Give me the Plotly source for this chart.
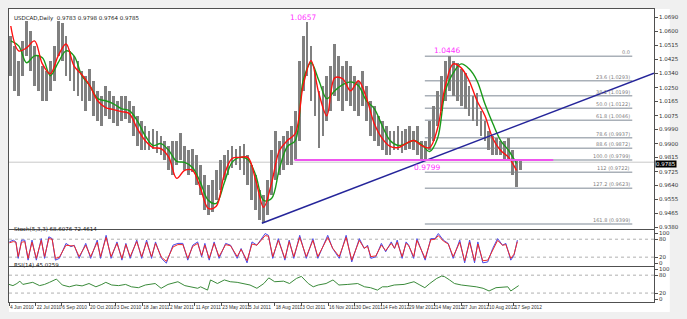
import numpy as np
import plotly.graph_objects as go
from plotly.subplots import make_subplots

# ---------------- data (x unit = week index) ----------------
price_high = [1.0572, 1.0510, 1.0417, 1.0541, 1.0665, 1.0603, 1.0510, 1.0448, 1.0386, 1.0355,
              1.0417, 1.0510, 1.0665, 1.0653, 1.0572, 1.0479, 1.0448, 1.0417, 1.0355, 1.0324,
              1.0367, 1.0293, 1.0230, 1.0199, 1.0262, 1.0230, 1.0199, 1.0168, 1.0199, 1.0199,
              1.0168, 1.0137, 1.0075, 1.0044, 1.0013, 0.9982, 0.9995, 0.9982, 0.9951, 0.9920,
              0.9889, 0.9920, 0.9920, 0.9964, 0.9889, 0.9858, 0.9870, 0.9827, 0.9765, 0.9703,
              0.9641, 0.9672, 0.9734, 0.9796, 0.9827, 0.9858, 0.9889, 0.9870, 0.9889, 0.9901,
              0.9827, 0.9765, 0.9703, 0.9610, 0.9579, 0.9672, 0.9858, 0.9982, 0.9920, 0.9951,
              0.9982, 1.0013, 1.0106, 1.0417, 1.0572, 1.0657, 1.0510, 1.0355, 1.0230, 1.0262,
              1.0324, 1.0386, 1.0522, 1.0448, 1.0386, 1.0417, 1.0386, 1.0324, 1.0293, 1.0355,
              1.0262, 1.0168, 1.0137, 1.0075, 1.0044, 1.0013, 0.9982, 0.9982, 1.0013, 0.9982,
              0.9995, 1.0013, 0.9982, 1.0013, 0.9920, 0.9920, 1.0044, 1.0137, 1.0230, 1.0324,
              1.0417, 1.0446, 1.0417, 1.0405, 1.0367, 1.0342, 1.0262, 1.0199, 1.0218, 1.0106,
              1.0044, 0.9982, 0.9951, 0.9933, 0.9920, 0.9920, 0.9933, 0.9858, 0.9796, 0.9808]
price_low = [1.0324, 1.0230, 1.0199, 1.0324, 1.0448, 1.0355, 1.0262, 1.0230, 1.0168, 1.0168,
             1.0230, 1.0293, 1.0448, 1.0417, 1.0324, 1.0293, 1.0230, 1.0199, 1.0168, 1.0106,
             1.0168, 1.0075, 1.0044, 1.0013, 1.0075, 1.0057, 1.0032, 1.0013, 1.0044, 1.0057,
             1.0032, 0.9951, 0.9889, 0.9858, 0.9858, 0.9858, 0.9870, 0.9845, 0.9827, 0.9796,
             0.9734, 0.9703, 0.9765, 0.9796, 0.9734, 0.9703, 0.9721, 0.9641, 0.9579, 0.9485,
             0.9454, 0.9473, 0.9547, 0.9610, 0.9672, 0.9703, 0.9746, 0.9765, 0.9734, 0.9703,
             0.9641, 0.9547, 0.9485, 0.9423, 0.9405, 0.9454, 0.9579, 0.9672, 0.9703, 0.9734,
             0.9765, 0.9765, 0.9796, 0.9920, 1.0230, 1.0324, 1.0168, 1.0075, 0.9876, 0.9951,
             1.0044, 1.0106, 1.0199, 1.0168, 1.0106, 1.0168, 1.0137, 1.0106, 1.0075, 1.0137,
             1.0044, 0.9951, 0.9920, 0.9889, 0.9858, 0.9827, 0.9827, 0.9858, 0.9858, 0.9845,
             0.9858, 0.9870, 0.9858, 0.9827, 0.9796, 0.9799, 0.9858, 0.9920, 1.0013, 1.0106,
             1.0168, 1.0230, 1.0199, 1.0168, 1.0137, 1.0119, 1.0075, 1.0044, 1.0013, 0.9951,
             0.9920, 0.9858, 0.9827, 0.9827, 0.9827, 0.9796, 0.9808, 0.9703, 0.9628, 0.9734]

# moving averages sampled every 2 weeks
ma_red = [1.0634, 1.0479, 1.0498, 1.0541, 1.0398, 1.0336, 1.0448, 1.0522, 1.0386, 1.0330,
          1.0262, 1.0168, 1.0125, 1.0113, 1.0100, 1.0088, 0.9995, 0.9920, 0.9876, 0.9870,
          0.9815, 0.9684, 0.9734, 0.9734, 0.9622, 0.9497, 0.9510, 0.9703, 0.9808, 0.9815,
          0.9815, 0.9672, 0.9504, 0.9653, 0.9858, 0.9920, 0.9964, 1.0262, 1.0417, 1.0212,
          1.0075, 1.0311, 1.0305, 1.0230, 1.0293, 1.0187, 1.0026, 0.9933, 0.9883, 0.9876,
          0.9901, 0.9920, 0.9889, 0.9876, 0.9995, 1.0262, 1.0398, 1.0373, 1.0293, 1.0168,
          1.0075, 0.9933, 0.9858, 0.9815, 0.9734]
ma_green = [1.0541, 1.0510, 1.0405, 1.0448, 1.0436, 1.0324, 1.0405, 1.0479, 1.0448, 1.0324,
            1.0262, 1.0181, 1.0168, 1.0149, 1.0119, 1.0106, 1.0044, 0.9951, 0.9889, 0.9901,
            0.9858, 0.9790, 0.9784, 0.9752, 0.9659, 0.9547, 0.9528, 0.9653, 0.9784, 0.9815,
            0.9802, 0.9703, 0.9547, 0.9559, 0.9746, 0.9883, 0.9920, 1.0293, 1.0405, 1.0293,
            1.0181, 1.0230, 1.0268, 1.0286, 1.0262, 1.0168, 1.0119, 1.0013, 0.9920, 0.9889,
            0.9901, 0.9920, 0.9895, 0.9852, 0.9933, 1.0230, 1.0342, 1.0398, 1.0367, 1.0293,
            1.0149, 1.0026, 0.9920, 0.9858, 0.9777]

stoch_x = [0.08, 1.08, 1.75, 2.33, 3.17, 4, 4.83, 5.83, 6.92, 8.17, 9, 10.08, 10.92, 11.75, 12.75,
           14.42, 15.67, 16.5, 17.75, 19.42, 20.67, 22.33, 23.17, 24.58, 25.83, 27.33, 28.58,
           29.58, 30.67, 32.33, 33.58, 34.83, 36.08, 37.08, 38.58, 39.83, 41.5, 42.75, 44, 45.25,
           46.5, 47.75, 48.75, 49.58, 50.67, 51.92, 53.17, 54.83, 56.08, 57.75, 58.75, 60.25,
           61.5, 62.75, 64.83, 65.67, 66.75, 68.17, 69.83, 70.92, 72.08, 73.58, 75.25, 76.92,
           78.17, 80.67, 81.92, 83.58, 85.33, 86.75, 88.67, 89.92, 90.75, 91.58, 92.83, 94.25,
           95.33, 96.75, 97.58, 98.25, 99.5, 100.5, 101.17, 102.42, 103.25, 105.33, 106.75,
           107.83, 108.67, 109.92, 111.17, 112.42, 114.08, 115.33, 116.58, 117.83, 118.67,
           119.92, 121.17, 122.42, 123.67, 124.92, 125.75, 127, 127.83, 128.67]
stoch_main = [71, 77, 71, 16, 77, 77, 10, 77, 10, 82, 16, 88, 82, 10, 16, 66, 55, 60, 16, 66,
              16, 77, 16, 93, 16, 71, 10, 66, 16, 77, 16, 77, 16, 71, 16, 0, 60, 66, 66, 10,
              60, 71, 21, 66, 10, 71, 16, 66, 60, 16, 49, 1, 71, 60, 99, 93, 16, 82, 10, 77,
              16, 93, 16, 82, 16, 93, 49, 16, 93, 4, 82, 49, 60, 16, 21, 66, 38, 71, 49, 77,
              16, 71, 60, 16, 82, 10, 82, 82, 99, 77, 66, 16, 77, 1, 77, 1, 71, 1, 4, 49,
              82, 60, 66, 10, 27, 77]
stoch_signal = [68, 72, 70, 22, 70, 72, 16, 70, 16, 76, 22, 82, 80, 16, 20, 60, 58, 58, 22, 60,
                22, 70, 22, 86, 22, 66, 16, 62, 22, 72, 22, 70, 22, 66, 20, 6, 54, 62, 62, 16,
                56, 66, 26, 60, 16, 66, 22, 62, 58, 22, 46, 8, 64, 60, 92, 90, 22, 76, 16, 72,
                22, 86, 22, 76, 22, 86, 50, 22, 86, 10, 76, 50, 56, 22, 24, 60, 42, 66, 50, 70,
                22, 66, 58, 22, 76, 16, 78, 80, 92, 74, 64, 22, 70, 8, 70, 8, 64, 8, 10, 44,
                76, 60, 62, 16, 30, 72]

rsi_x = [0, 1, 2, 2.75, 3.5, 4.5, 6, 7.75, 9, 10.25, 12, 13.5, 15.25, 17, 18.5, 20.25, 22, 23.5,
         24.5, 26, 27.75, 29.5, 31, 32.75, 34.5, 37, 38.5, 40.25, 42.75, 44.5, 46, 47.75, 48.5,
         50.25, 51, 52.75, 54.5, 56, 57.75, 59.5, 61, 62.75, 64.5, 65.75, 67.25, 69.5, 71,
         72.75, 74, 75.75, 77, 78.25, 80.25, 82, 83.5, 85.75, 88.25, 90, 91.5, 93.25, 94.5,
         95.75, 97.5, 100, 102.5, 104, 105.25, 106.5, 108.25, 109.5, 110.25, 111.5, 112.75,
         114.5, 116.5, 118.25, 120, 121.5, 123.25, 125, 126.25, 127, 127.75, 129]
rsi_vals = [49, 45, 52, 60, 49, 52, 56, 45, 49, 56, 67, 47, 41, 47, 44, 52, 41, 49, 56, 47,
            45, 49, 41, 38, 47, 52, 36, 49, 58, 45, 41, 36, 41, 30, 64, 52, 64, 58, 56, 52,
            47, 36, 52, 71, 58, 60, 52, 69, 76, 52, 41, 47, 52, 64, 47, 49, 52, 41, 38, 30,
            41, 41, 47, 49, 58, 47, 38, 52, 69, 77, 75, 64, 52, 47, 45, 41, 36, 27, 38, 41,
            41, 27, 34, 45]

fib_levels = [1.0446, 1.0293, 1.0199, 1.0122, 1.0046, 0.9937, 0.9872, 0.9799, 0.9722, 0.9623, 0.9399]
fib_texts = ["0.0", "23.6 (1.0293)", "38.2 (1.0199)", "50.0 (1.0122)", "61.8 (1.0046)",
             "78.6 (0.9937)", "88.6 (0.9872)", "100.0 (0.9799)", "112 (0.9722)",
             "127.2 (0.9623)", "161.8 (0.9399)"]
fib_start, fib_end = 105.25, 157.75

support_level = 0.9799
support_start, support_end = 72.25, 137.75
trend_x = [64, 163.25]
trend_y = [0.9405, 1.0340]
last_price = 0.9785

peak_labels = [(74.5, 1.0690, "1.0657"), (110.75, 1.0479, "1.0446"), (105.75, 0.9752, "0.9799")]

price_ticks = [1.0690, 1.0600, 1.0515, 1.0425, 1.0340, 1.0250, 1.0165, 1.0075, 0.9990,
               0.9900, 0.9815, 0.9725, 0.9640, 0.9555, 0.9465, 0.9380]
date_pos = [0, 6.75, 13.25, 20.25, 27, 33.75, 40.5, 47, 53.75, 60.5, 67.25, 74, 80.75, 87.5,
            94.25, 101, 107.75, 114.5, 121.25, 127.75]
date_labels = ['4 Jun 2010', '22 Jul 2010', '6 Sep 2010', '20 Oct 2010', '3 Dec 2010',
               '18 Jan 2011', '2 Mar 2011', '11 Apr 2011', '23 May 2011', '5 Jul 2011',
               '18 Aug 2011', '3 Oct 2011', '16 Nov 2011', '30 Dec 2011', '14 Feb 2012',
               '29 Mar 2012', '14 May 2012', '27 Jun 2012', '10 Aug 2012', '17 Sep 2012']

# ---------------- figure ----------------
FONT = "DejaVu Sans"
NARROW = "Liberation Sans Narrow, Liberation Sans, Arial"
fig = make_subplots(rows=3, cols=1, shared_xaxes=True, vertical_spacing=0)

hi = np.array(price_high)
lo = np.array(price_low)
xk = np.arange(len(hi)) + 0.45
fig.add_trace(go.Bar(x=xk, y=hi - lo, base=lo, width=0.7, marker_color="#808080",
                     marker_line_width=0, showlegend=False), row=1, col=1)

xm = np.arange(len(ma_red)) * 2 + 0.45
fig.add_trace(go.Scatter(x=xm, y=ma_green, mode="lines", line=dict(color="#1a9a1a", width=1.4, shape="spline"),
                         showlegend=False), row=1, col=1)
fig.add_trace(go.Scatter(x=xm, y=ma_red, mode="lines", line=dict(color="#ff1010", width=1.4, shape="spline"),
                         showlegend=False), row=1, col=1)

# trend line
fig.add_trace(go.Scatter(x=trend_x, y=trend_y, mode="lines", line=dict(color="#25259a", width=1.6),
                         showlegend=False), row=1, col=1)

fig.add_trace(go.Scatter(x=stoch_x, y=stoch_main, mode="lines", line=dict(color="#4a4ae6", width=1),
                         showlegend=False), row=2, col=1)
fig.add_trace(go.Scatter(x=stoch_x, y=stoch_signal, mode="lines", line=dict(color="#ee2a2a", width=1),
                         showlegend=False), row=2, col=1)
fig.add_trace(go.Scatter(x=rsi_x, y=rsi_vals, mode="lines", line=dict(color="#3a8a3a", width=1),
                         showlegend=False), row=3, col=1)

shapes = []
# white background behind axis labels
shapes.append(dict(type="rect", xref="paper", yref="paper", x0=0, x1=1.0245, y0=-0.034, y1=1,
                   fillcolor="white", line_width=0, layer="below"))
# current price line
shapes.append(dict(type="line", xref="paper", yref="y", x0=0, x1=1, y0=last_price, y1=last_price,
                   line=dict(color="#c8c8c8", width=1), layer="below"))
for lv in fib_levels:
    shapes.append(dict(type="line", xref="x", yref="y", x0=fib_start, x1=fib_end, y0=lv, y1=lv,
                       line=dict(color="#a9b0b8", width=1.5), layer="below"))
shapes.append(dict(type="line", xref="x", yref="y", x0=support_start, x1=support_end,
                   y0=support_level, y1=support_level, line=dict(color="#ee55ee", width=2)))
for ya in ["y2", "y3"]:
    for lv in [20, 80]:
        shapes.append(dict(type="line", xref="paper", yref=ya, x0=0, x1=1, y0=lv, y1=lv,
                           line=dict(color="#b0b0b0", width=1, dash="dot"), layer="below"))

annotations = []
for lv, t in zip(fib_levels, fib_texts):
    annotations.append(dict(x=fib_end, y=lv, xref="x", yref="y", text=t, showarrow=False,
                            xanchor="right", yanchor="bottom", yshift=-1,
                            font=dict(size=5, color="#808080", family=FONT)))
for px_, py_, t in peak_labels:
    annotations.append(dict(x=px_, y=py_, xref="x", yref="y", text=t, showarrow=False,
                            font=dict(size=7.5, color="#ff33ff", family=FONT)))
annotations.append(dict(x=1.002, y=last_price, xref="paper", yref="y", text="0.9785", showarrow=False,
                        xanchor="left", yshift=-1.5, bgcolor="black", borderpad=0,
                        font=dict(size=5.5, color="white", family=FONT)))
annotations.append(dict(x=0.005, y=0.986, xref="paper", yref="paper",
                        text="USDCAD,Daily  0.9783 0.9798 0.9764 0.9785", showarrow=False,
                        xanchor="left", font=dict(size=5.5, color="#202020", family=FONT)))
annotations.append(dict(x=0.005, y=0.231, xref="paper", yref="paper",
                        text="Stoch(5,3,3) 68.6076 72.4614", showarrow=False,
                        xanchor="left", font=dict(size=5.5, color="#202020", family=FONT)))
annotations.append(dict(x=0.005, y=0.108, xref="paper", yref="paper",
                        text="RSI(14) 45.0259", showarrow=False,
                        xanchor="left", font=dict(size=5.5, color="#202020", family=FONT)))

axis_common = dict(showline=True, mirror=True, linecolor="#505050", linewidth=1,
                   showgrid=False, zeroline=False)
fig.update_layout(
    width=687, height=319, autosize=False,
    margin=dict(l=9, r=25, t=8, b=17),
    paper_bgcolor="#f0f0f0", plot_bgcolor="white",
    font=dict(family=FONT, size=5.5, color="#303030"),
    bargap=0, shapes=shapes, annotations=annotations, showlegend=False,
    yaxis=dict(domain=[0.2483, 1], range=[0.9367, 1.0740], side="right", tickvals=price_ticks,
               ticktext=[f"{v:.4f}" for v in price_ticks], ticks="outside", ticklen=3,
               tickcolor="#505050", **axis_common),
    yaxis2=dict(domain=[0.1224, 0.2449], range=[-10, 110], side="right", tickvals=[0, 20, 80, 100],
                ticks="outside", ticklen=3, tickcolor="#505050", **axis_common),
    yaxis3=dict(domain=[0, 0.119], range=[-10, 107], side="right", tickvals=[0, 20, 80, 100],
                ticks="outside", ticklen=3, tickcolor="#505050", **axis_common),
    xaxis=dict(range=[0, 163.25], showticklabels=False, **axis_common),
    xaxis2=dict(range=[0, 163.25], showticklabels=False, **axis_common),
    xaxis3=dict(range=[0, 163.25], tickvals=date_pos, ticktext=date_labels, ticks="outside",
                ticklen=3, tickcolor="#505050", tickangle=0,
                tickfont=dict(size=4.8, family=NARROW),
                ticklabelposition="outside right", **axis_common),
)

fig.write_html("out.html")
